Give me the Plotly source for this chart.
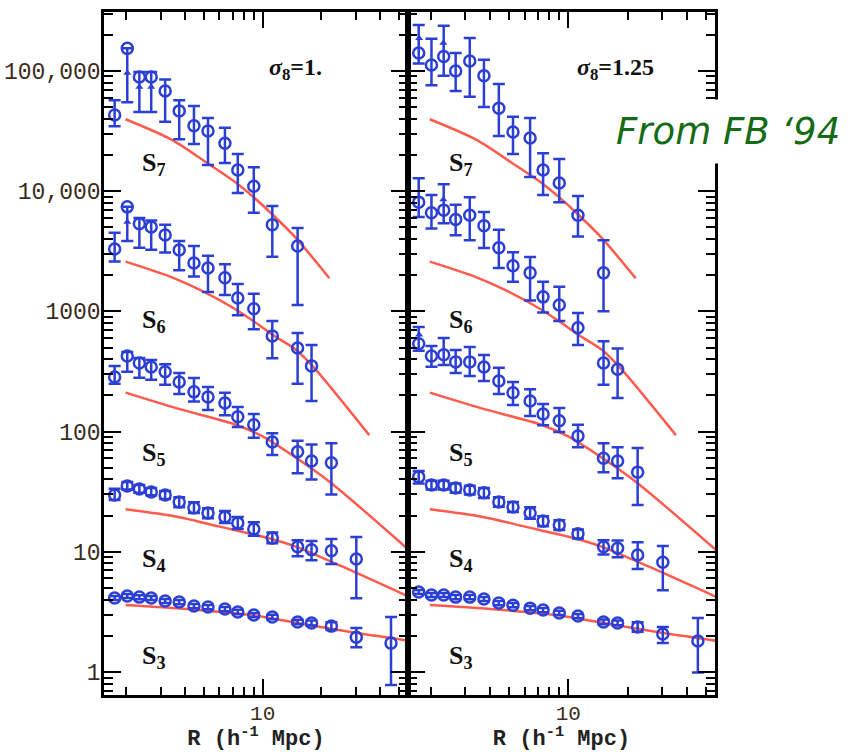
import plotly.graph_objects as go

# ---------------- data ----------------
R = [1.74, 2.02, 2.33, 2.68, 3.16, 3.73, 4.44, 5.24, 6.40, 7.45, 9.0, 11.2, 15.1, 17.8, 22.5, 30.2, 45.5]

# left panel  sigma8 = 1.
L_S7 = [43000, 154000, 89000, 89000, 68000, 46500, 35000, 31700, 25000, 15000, 11000, 5250, 3500]
L_S7_hi = [57000, 154000, 98000, 98000, 85000, 57000, 51000, 40500, 33600, 20400, 15800, 7540, 4940]
L_S7_lo = [34700, 55000, 45500, 45500, 37700, 27000, 24700, 16500, 17100, 9660, 6600, 2850, 1130]

L_S6 = [3300, 7400, 5350, 5030, 4320, 3240, 2520, 2290, 1900, 1290, 1050, 624, 496, 352]
L_S6_hi = [4500, 7400, 5980, 5700, 5250, 3850, 3500, 2900, 2460, 1690, 1400, 830, 660, 525]
L_S6_lo = [2600, 3850, 3380, 3250, 3080, 2200, 1950, 1450, 1370, 930, 710, 408, 250, 180]

L_S5 = [285, 425, 372, 345, 314, 259, 214, 194, 173, 133, 114, 82, 68, 57, 55]
L_S5_hi = [352, 459, 410, 394, 364, 307, 279, 235, 210, 160, 140, 97, 84, 78, 80]
L_S5_lo = [250, 314, 280, 270, 245, 205, 178, 151, 137, 109, 89, 64, 45, 40, 30]

L_S4 = [29.7, 35.3, 33.3, 31.5, 29.7, 26.0, 23.2, 21.0, 19.5, 17.4, 15.5, 13.0, 11.0, 10.4, 10.2, 8.7]
L_S4_hi = [33.5, 38.0, 36.0, 34.0, 32.0, 28.5, 25.8, 23.0, 21.8, 19.5, 17.6, 14.5, 12.5, 12.3, 12.8, 13.3]
L_S4_lo = [27.0, 33.0, 31.0, 29.5, 27.5, 23.5, 21.0, 19.0, 17.4, 15.5, 13.6, 11.8, 9.2, 8.5, 7.9, 4.1]

L_S3 = [4.13, 4.29, 4.2, 4.13, 3.9, 3.82, 3.54, 3.47, 3.34, 3.16, 2.98, 2.87, 2.61, 2.56, 2.41, 1.95, 1.74]
L_S3_hi = [4.3, 4.45, 4.36, 4.28, 4.05, 3.97, 3.68, 3.61, 3.47, 3.29, 3.1, 2.99, 2.72, 2.68, 2.6, 2.32, 2.87]
L_S3_lo = [3.97, 4.13, 4.04, 3.98, 3.75, 3.67, 3.4, 3.33, 3.21, 3.03, 2.86, 2.75, 2.5, 2.44, 2.24, 1.61, 0.78]

# right panel  sigma8 = 1.25
R_S7 = [141000, 112000, 132000, 100000, 121000, 91000, 49000, 31000, 27700, 15000, 11700, 6300, 2090]
R_S7_hi = [241000, 185000, 237000, 141000, 188000, 124000, 78000, 41500, 40500, 20700, 18500, 9100, 3900]
R_S7_lo = [115000, 76000, 91000, 68000, 61000, 50000, 28700, 20400, 13100, 9300, 8100, 4200, 1000]

R_S6 = [8100, 6600, 6950, 5800, 6300, 5150, 3380, 2400, 2090, 1320, 1130, 730, 372, 330]
R_S6_hi = [12800, 9300, 11400, 7700, 8900, 6700, 4780, 3100, 2830, 1760, 1600, 970, 565, 490]
R_S6_lo = [6100, 4900, 5400, 4300, 3900, 3370, 2290, 1760, 1230, 980, 830, 525, 245, 190]

R_S5 = [537, 425, 435, 380, 380, 345, 264, 210, 180, 140, 123, 92, 60, 57, 46]
R_S5_hi = [740, 515, 600, 477, 506, 434, 339, 259, 225, 170, 157, 114, 80, 74, 73]
R_S5_lo = [470, 346, 358, 307, 290, 264, 205, 166, 135, 113, 99, 74, 46, 41, 24.5]

R_S4 = [42, 36, 36, 34, 32.7, 31, 26, 23.6, 21, 18, 16.7, 14.1, 11.0, 10.7, 9.4, 8.2]
R_S4_hi = [47, 39, 39, 37, 35.5, 34, 28.5, 26, 23.5, 19.8, 18.3, 15.3, 12.5, 12.4, 12.0, 11.2]
R_S4_lo = [37, 33, 33, 31, 30, 28, 23.7, 21.4, 18.8, 16.3, 15.2, 12.9, 9.5, 9.0, 7.2, 4.8]

R_S3 = [4.63, 4.37, 4.37, 4.2, 4.2, 4.05, 3.75, 3.6, 3.4, 3.28, 3.1, 2.92, 2.61, 2.56, 2.37, 2.07, 1.81]
R_S3_hi = [4.82, 4.54, 4.54, 4.37, 4.37, 4.21, 3.9, 3.75, 3.54, 3.41, 3.23, 3.04, 2.73, 2.68, 2.6, 2.37, 2.81]
R_S3_lo = [4.45, 4.2, 4.2, 4.04, 4.04, 3.9, 3.6, 3.46, 3.27, 3.15, 2.98, 2.8, 2.5, 2.45, 2.16, 1.74, 0.99]

# lower-limit arrows
L_ARROW_R = [2.02, 2.33, 2.68, 2.02]
L_ARROW_V = [96000, 73600, 73600, 5540]
R_ARROW_R = [1.75, 2.32, 2.32, 1.75]
R_ARROW_V = [187000, 171000, 8500, 640]

# theory curves (same in both panels)
TH_S7_R = [1.98, 3.42, 5.37, 7.35, 8.92, 11.29, 14.86, 21.98]
TH_S7 = [39600, 26700, 16500, 11650, 9000, 6330, 4050, 1885]
TH_S6_R = [1.98, 3.35, 4.77, 7.35, 9.29, 11.29, 14.86, 18.79, 35.2]
TH_S6 = [2591, 1945, 1506, 1027, 796, 636, 477, 325, 93.5]
TH_S5_R = [1.98, 3.63, 7.35, 10.04, 13.7, 22.0, 56.2]
TH_S5 = [210.7, 156, 113.5, 90.7, 66, 38.3, 10.35]
TH_S4_R = [1.98, 3.63, 6.03, 10.86, 14.86, 25.7, 56.2]
TH_S4 = [22.6, 19.6, 16.2, 12.9, 11.0, 7.52, 4.23]
TH_S3_R = [1.98, 3.63, 8.59, 14.86, 27.8, 56.2]
TH_S3 = [3.61, 3.39, 2.98, 2.57, 2.16, 1.82]

Y_TICKS = [1, 10, 100, 1000, 10000, 100000]
Y_TICKTEXT = ["1", "10", "100", "1000", "10,000", "100,000"]
X_TICKS = [10]
X_TICKTEXT = ["10"]

LABELS = ["S<sub>7</sub>", "S<sub>6</sub>", "S<sub>5</sub>", "S<sub>4</sub>", "S<sub>3</sub>"]
PANEL_TITLES = ["<i>σ</i><sub>8</sub>=1.", "<i>σ</i><sub>8</sub>=1.25"]

# ---------------- styling ----------------
BLUE = "#2b3fd4"
RED = "#ff5a4e"
TICKCOL = "#3a2c1c"

fig = go.Figure()


def add_series(v, hi, lo, xa, ya):
    n = len(v)
    fig.add_trace(go.Scatter(
        x=R[:n], y=v, mode="markers", xaxis=xa, yaxis=ya,
        marker=dict(symbol="circle-open", size=11, color=BLUE, line=dict(width=2.5, color=BLUE)),
        error_y=dict(type="data", symmetric=False,
                     array=[h - a for h, a in zip(hi, v)],
                     arrayminus=[a - l for a, l in zip(v, lo)],
                     color=BLUE, thickness=2.5, width=6),
        showlegend=False, hoverinfo="skip"))


curves = [(TH_S7_R, TH_S7), (TH_S6_R, TH_S6), (TH_S5_R, TH_S5), (TH_S4_R, TH_S4), (TH_S3_R, TH_S3)]
left = [(L_S7, L_S7_hi, L_S7_lo), (L_S6, L_S6_hi, L_S6_lo), (L_S5, L_S5_hi, L_S5_lo),
        (L_S4, L_S4_hi, L_S4_lo), (L_S3, L_S3_hi, L_S3_lo)]
right = [(R_S7, R_S7_hi, R_S7_lo), (R_S6, R_S6_hi, R_S6_lo), (R_S5, R_S5_hi, R_S5_lo),
         (R_S4, R_S4_hi, R_S4_lo), (R_S3, R_S3_hi, R_S3_lo)]

for xa, ya, series, ar_r, ar_v in [("x", "y", left, L_ARROW_R, L_ARROW_V),
                                   ("x2", "y2", right, R_ARROW_R, R_ARROW_V)]:
    for cx, cy in curves:
        fig.add_trace(go.Scatter(x=cx, y=cy, mode="lines", xaxis=xa, yaxis=ya,
                                 line=dict(color=RED, width=2.5, shape="spline", smoothing=0.8),
                                 showlegend=False, hoverinfo="skip"))
    for v, hi, lo in series:
        add_series(v, hi, lo, xa, ya)
    fig.add_trace(go.Scatter(x=ar_r, y=ar_v, mode="markers", xaxis=xa, yaxis=ya,
                             marker=dict(symbol="triangle-up", size=7, color=BLUE),
                             showlegend=False, hoverinfo="skip"))

# axes
XR = [0.186, 1.745]
YR = [-0.191, 5.49]
minor_x = [2, 3, 4, 5, 6, 7, 8, 9, 20, 30, 40, 50]
minor_y = [d * 10 ** e for e in range(-1, 6) for d in range(2, 10)]

common_x = dict(type="log", range=XR, showline=True, linewidth=2.5, linecolor="black",
                mirror="allticks", ticks="inside", ticklen=16, tickwidth=2, tickcolor="black",
                tickvals=X_TICKS, ticktext=X_TICKTEXT, showgrid=False, zeroline=False,
                automargin=False, ticklabelstandoff=-3,
                tickfont=dict(family="Liberation Mono", size=21, color=TICKCOL),
                minor=dict(ticks="inside", ticklen=8, tickwidth=2, tickcolor="black",
                           tickvals=minor_x, showgrid=False),
                title=dict(text="R (h<sup>-1</sup> Mpc)",
                           font=dict(family="Liberation Mono", size=22, color="#222", weight="bold"),
                           standoff=0))
common_y = dict(type="log", range=YR, showline=True, linewidth=2.5, linecolor="black",
                mirror="allticks", ticks="inside", ticklen=17, tickwidth=2, tickcolor="black",
                tickvals=Y_TICKS, ticktext=Y_TICKTEXT, showgrid=False, zeroline=False,
                automargin=False,
                tickfont=dict(family="Liberation Mono", size=23, color=TICKCOL),
                minor=dict(ticks="inside", ticklen=9, tickwidth=2, tickcolor="black",
                           tickvals=minor_y, showgrid=False))

fig.update_layout(
    width=848, height=752, margin=dict(l=104, r=133, t=12, b=57, autoexpand=False),
    paper_bgcolor="white", plot_bgcolor="white", showlegend=False,
    xaxis=dict(common_x, domain=[0, 0.4975], anchor="y"),
    xaxis2=dict(common_x, domain=[0.4975, 1], anchor="y2"),
    yaxis=dict(common_y, anchor="x", ticklabelstandoff=-4),
    yaxis2=dict(common_y, anchor="x2", showticklabels=False),
)

# labels
label_y = [160, 317, 450, 556, 653]  # pixel centres of the "S"
ann = []
for xref, xd in [("x domain", 0.12), ("x2 domain", 0.128)]:
    for txt, py in zip(LABELS, label_y):
        ann.append(dict(text=txt, xref=xref, yref="paper", x=xd, y=(695 - py - 4) / 683,
                        xanchor="left", yanchor="middle", showarrow=False,
                        font=dict(family="Liberation Serif", size=26, color="#111", weight="bold")))
for xref, xd, t in [("x domain", 0.63, PANEL_TITLES[0]), ("x2 domain", 0.675, PANEL_TITLES[1])]:
    ann.append(dict(text=t, xref=xref, yref="paper", x=xd, y=(695 - 69) / 683,
                    xanchor="center", yanchor="middle", showarrow=False,
                    font=dict(family="Liberation Serif", size=24, color="#111", weight="bold")))
ann.append(dict(text="<i>From FB ‘94</i>", xref="paper", yref="paper",
                x=(728 - 104) / 611, y=(695 - 131) / 683, xanchor="center", yanchor="middle",
                showarrow=False, bgcolor="white", borderpad=10,
                font=dict(family="DejaVu Sans", size=37, color="#156b15")))
fig.update_layout(annotations=ann)

fig.write_html("out.html")
